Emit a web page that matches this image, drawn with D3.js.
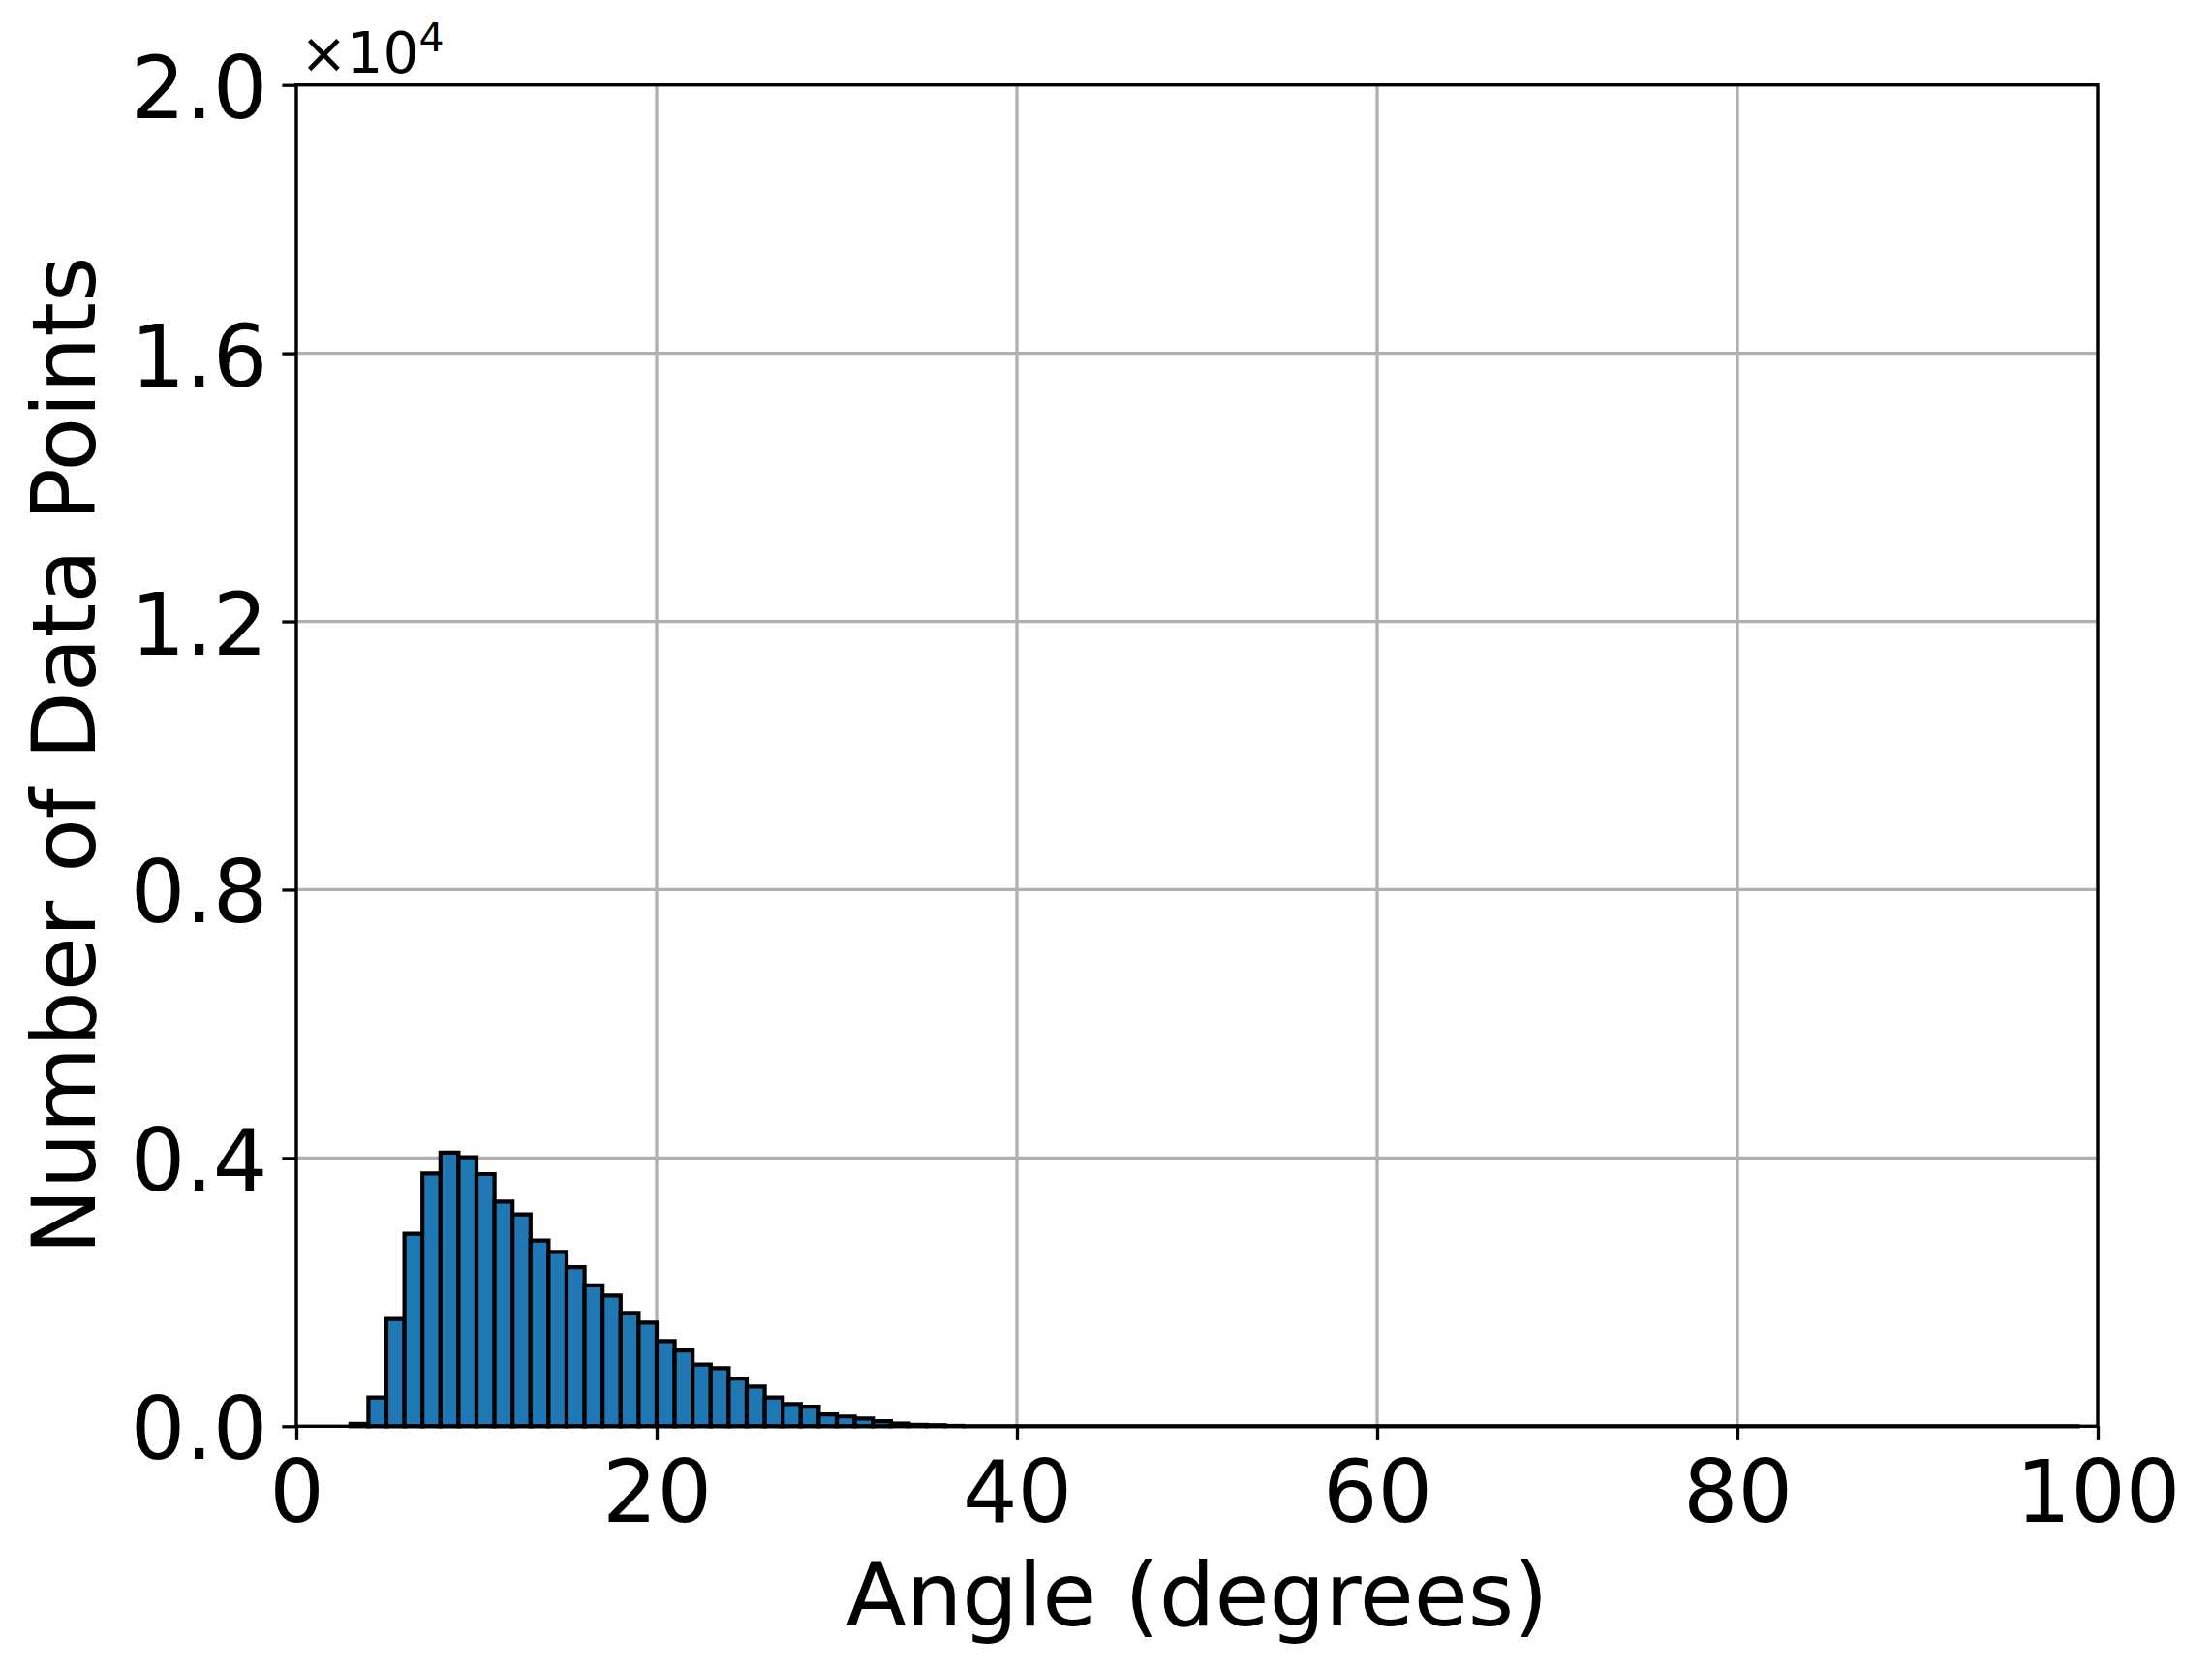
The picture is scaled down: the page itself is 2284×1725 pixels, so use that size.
<!DOCTYPE html>
<html>
<head>
<meta charset="utf-8">
<script src="https://cdn.jsdelivr.net/npm/d3@7"></script>
<style>
  html, body { margin: 0; padding: 0; background: #fff; }
  svg { display: block; }
  text { font-family: "DejaVu Sans", sans-serif; fill: #000; }
</style>
</head>
<body>
<svg id="chart" width="2284" height="1725"></svg>
<script>
// ---- data ----
const binStart = 3;      // left edge of the first bin (degrees)
const binWidth = 1;      // bin width (degrees)
const counts = [
  35, 430, 1600, 2870, 3770, 4080, 4010, 3760, 3350, 3160,
  2770, 2600, 2370, 2100, 1950, 1690, 1545, 1270, 1130, 920,
  865, 710, 590, 430, 330, 290, 175, 145, 115, 75,
  40, 20, 15, 5,
  0, 0, 0, 0, 0, 0, 0, 0, 0, 0,
  0, 0, 0, 0, 0, 0, 0, 0, 0, 0,
  0, 0, 0, 0, 0, 0, 0, 0, 0, 0,
  0, 0, 0, 0, 0, 0, 0, 0, 0, 0,
  0, 0, 0, 0, 0, 0, 0, 0, 0, 0,
  0, 0, 0, 0, 0, 0, 0, 0, 0, 0,
  0, 0
];
const xTicks = [0, 20, 40, 60, 80, 100];
const yTicks = [0, 4000, 8000, 12000, 16000, 20000];
const yTickLabels = ["0.0", "0.4", "0.8", "1.2", "1.6", "2.0"];
const xLabel = "Angle (degrees)";
const yLabel = "Number of Data Points";

(function () {
// ---- layout ----
const pL = 306, pR = 2166, pT = 87.7, pB = 1472.3;
const svg = d3.select("#chart");
const x = d3.scaleLinear().domain([0, 100]).range([pL, pR]);
const y = d3.scaleLinear().domain([0, 20000]).range([pB, pT]);

const lw = 3.3;
const grid = "#b0b0b0";
const fs = 89;

// grid
svg.append("g").selectAll("line").data(xTicks).join("line")
  .attr("x1", d => x(d)).attr("x2", d => x(d))
  .attr("y1", pT).attr("y2", pB)
  .attr("stroke", grid).attr("stroke-width", lw);
svg.append("g").selectAll("line").data(yTicks).join("line")
  .attr("x1", pL).attr("x2", pR)
  .attr("y1", d => y(d)).attr("y2", d => y(d))
  .attr("stroke", grid).attr("stroke-width", lw);

// bars
const bars = counts.map((c, i) => ({ x0: binStart + i * binWidth, x1: binStart + (i + 1) * binWidth, c }));
svg.append("g").selectAll("path").data(bars).join("path")
  .attr("d", d => {
    const p = d3.path();
    p.moveTo(x(d.x0), y(0));
    p.lineTo(x(d.x0), y(d.c));
    p.lineTo(x(d.x1), y(d.c));
    p.lineTo(x(d.x1), y(0));
    p.closePath();
    return p.toString();
  })
  .attr("fill", "#1f77b4")
  .attr("stroke", "#000")
  .attr("stroke-width", 4.2)
  .attr("stroke-linejoin", "miter");

// axes (d3 axes for ticks + labels)
const xAxis = d3.axisBottom(x).tickValues(xTicks).tickSize(14.6).tickPadding(14).tickFormat(d3.format("d"));
const gx = svg.append("g").attr("transform", `translate(0,${pB})`).call(xAxis);
gx.select(".domain").remove();
gx.selectAll(".tick line").attr("stroke", "#000").attr("stroke-width", lw);
gx.selectAll(".tick text")
  .attr("font-size", fs).attr("font-family", "DejaVu Sans")
  .attr("dy", null).attr("y", 98.5).attr("fill", "#000");

const yAxis = d3.axisLeft(y).tickValues(yTicks).tickSize(14.6).tickPadding(14)
  .tickFormat((d, i) => yTickLabels[i]);
const gy = svg.append("g").attr("transform", `translate(${pL},0)`).call(yAxis);
gy.select(".domain").remove();
gy.selectAll(".tick line").attr("stroke", "#000").attr("stroke-width", lw);
gy.selectAll(".tick text")
  .attr("font-size", fs).attr("font-family", "DejaVu Sans")
  .attr("dy", null).attr("y", 33.5).attr("x", -29.6).attr("fill", "#000");

// spines
svg.append("rect")
  .attr("x", pL).attr("y", pT)
  .attr("width", pR - pL).attr("height", pB - pT)
  .attr("fill", "none").attr("stroke", "#000").attr("stroke-width", lw);

// offset text
const off = svg.append("text").attr("x", 310).attr("y", 75).attr("font-size", 58);
off.append("tspan").text("×10");
off.append("tspan").attr("font-size", 41).attr("dy", -22).text("4");

// axis labels
svg.append("text")
  .attr("x", (pL + pR) / 2).attr("y", 1678)
  .attr("text-anchor", "middle").attr("font-size", 91)
  .text(xLabel);
svg.append("text")
  .attr("transform", `translate(98,${(pT + pB) / 2}) rotate(-90)`)
  .attr("text-anchor", "middle").attr("font-size", 91)
  .text(yLabel);
})();
</script>
</body>
</html>
